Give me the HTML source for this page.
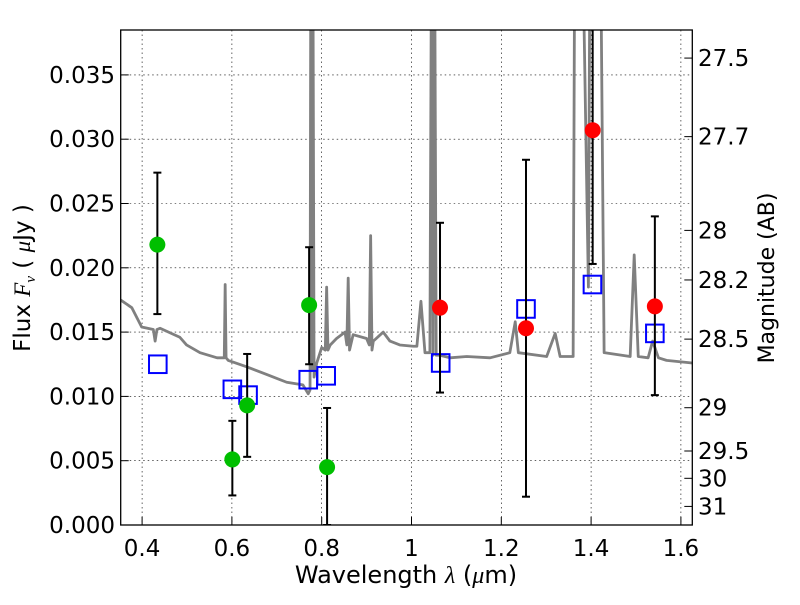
<!DOCTYPE html>
<html><head><meta charset="utf-8"><style>
body{margin:0;background:#fff}
svg text{font-family:"DejaVu Sans","Liberation Sans",sans-serif;fill:#000}
</style></head><body>
<svg id="chart" width="800" height="600" xmlns="http://www.w3.org/2000/svg">
<defs><clipPath id="pc"><rect x="120.7" y="30" width="571.6" height="495"/></clipPath></defs>
<rect x="0" y="0" width="800" height="600" fill="#fff"/>
<g id="grid"></g>
<g id="spec" clip-path="url(#pc)"></g>
<g id="marks" clip-path="url(#pc)"></g>
<rect x="120.7" y="30" width="571.6" height="495" fill="none" stroke="#000" stroke-width="1.3"/>
<g id="axes"></g>
<text x="406" y="583" font-size="24" text-anchor="middle">Wavelength  <tspan font-style="italic" font-family="Liberation Serif">λ</tspan> (<tspan font-style="italic" font-family="Liberation Serif">μ</tspan>m)</text>
<text transform="translate(30,278) rotate(-90)" font-size="23" text-anchor="middle">Flux  <tspan font-style="italic" font-family="Liberation Serif">F</tspan><tspan font-style="italic" font-family="Liberation Serif" font-size="15" dy="5">ν</tspan><tspan dy="-5"> ( </tspan><tspan font-style="italic" font-family="Liberation Serif">μ</tspan>Jy )</text>
<text transform="translate(774,278) rotate(-90)" font-size="22" text-anchor="middle">Magnitude (AB)</text>
</svg>
<script>
const xTicks=[0.4,0.6,0.8,1.0,1.2,1.4,1.6];
const xTickLabels=["0.4","0.6","0.8","1","1.2","1.4","1.6"];
const yTicks=[0,0.005,0.01,0.015,0.02,0.025,0.03,0.035];
const yTickLabels=["0.000","0.005","0.010","0.015","0.020","0.025","0.030","0.035"];
const magTicks=[27.5,27.7,28,28.2,28.5,29,29.5,30,31];
const magTickLabels=["27.5","27.7","28","28.2","28.5","29","29.5","30","31"];
const specW=[0.352,0.377,0.399,0.425,0.429,0.433,0.440,0.484,0.499,0.529,0.567,0.583,0.585,0.587,0.592,0.633,0.678,0.722,0.758,0.770,0.774,0.776,0.778,0.780,0.783,0.789,0.800,0.808,0.811,0.814,0.819,0.833,0.852,0.856,0.859,0.862,0.870,0.900,0.906,0.909,0.912,0.915,0.937,0.952,0.974,1.004,1.012,1.021,1.030,1.041,1.045,1.048,1.051,1.055,1.063,1.086,1.123,1.175,1.219,1.231,1.238,1.301,1.320,1.331,1.360,1.364,1.379,1.394,1.398,1.420,1.429,1.487,1.496,1.505,1.527,1.537,1.550,1.568,1.625];
const specF=[0.0175,0.0169,0.0154,0.0152,0.0143,0.0152,0.0153,0.0146,0.0140,0.0134,0.0130,0.0130,0.0187,0.0130,0.0128,0.0123,0.0117,0.0111,0.0109,0.0102,0.0105,0.05,0.012,0.05,0.0115,0.0126,0.0138,0.0136,0.0185,0.0136,0.0140,0.0145,0.0150,0.0140,0.0192,0.0136,0.0148,0.0145,0.0140,0.0225,0.0136,0.0143,0.0150,0.0143,0.0140,0.0139,0.0139,0.0174,0.0134,0.0134,0.05,0.0132,0.05,0.0132,0.0132,0.0130,0.0131,0.0130,0.0134,0.0158,0.0134,0.0131,0.0149,0.0131,0.0131,0.05,0.05,0.0185,0.05,0.05,0.0134,0.0131,0.0210,0.0131,0.0130,0.0143,0.0130,0.0128,0.0126];
const greenW=[0.434,0.601,0.634,0.772,0.812];
const greenF=[0.0218,0.0051,0.0093,0.0171,0.0045];
const greenLo=[0.0164,0.0023,0.0053,0.0125,0.0];
const greenHi=[0.0274,0.0081,0.0133,0.0216,0.0091];
const redW=[1.0635,1.255,1.4035,1.542];
const redF=[0.0169,0.0153,0.0307,0.0170];
const redLo=[0.0103,0.0022,0.0203,0.0101];
const redHi=[0.0235,0.0284,0.045,0.0240];
const modelW=[0.435,0.601,0.636,0.770,0.810,1.065,1.255,1.403,1.542];
const modelF=[0.0125,0.01055,0.0101,0.0113,0.0116,0.0126,0.0168,0.0187,0.0149];

const NS="http://www.w3.org/2000/svg";
const X=w=>411.5+(w-1)*449;
const Y=f=>525-f*12860;
const M=m=>Y(Math.pow(10,(23.9-m)/2.5));
function mk(parent,tag,attrs){const e=document.createElementNS(NS,tag);for(const k in attrs)e.setAttribute(k,attrs[k]);document.getElementById(parent).appendChild(e);return e;}
xTicks.forEach((t,i)=>{
  const g=mk('grid','line',{x1:X(t),x2:X(t),y1:30,y2:525,stroke:'#000','stroke-width':0.6,'stroke-dasharray':'1.5,3'});
  
  
  const tk=mk('axes','line',{x1:X(t),x2:X(t),y1:525,y2:517,stroke:'#000','stroke-width':1});
  
  
  const tx=mk('axes','text',{x:X(t),y:556,'font-size':23,'text-anchor':'middle'});
  tx.textContent=xTickLabels[i];
  
  
});
yTicks.forEach((t,i)=>{
  const g=mk('grid','line',{x1:120.7,x2:692.3,y1:Y(t),y2:Y(t),stroke:'#000','stroke-width':0.6,'stroke-dasharray':'1.5,3'});
  
  
  const tk=mk('axes','line',{x1:120.7,x2:128.7,y1:Y(t),y2:Y(t),stroke:'#000','stroke-width':1});
  
  
  const tx=mk('axes','text',{x:115,y:Y(t)+8,'font-size':23,'text-anchor':'end'});
  tx.textContent=yTickLabels[i];
  
  
});
magTicks.forEach((t,i)=>{
  const tk=mk('axes','line',{x1:684.3,x2:692.3,y1:M(t),y2:M(t),stroke:'#000','stroke-width':1});
  
  
  const tx=mk('axes','text',{x:698,y:M(t)+8,'font-size':23});
  tx.textContent=magTickLabels[i];
  
  
});
const sp=mk('spec','polyline',{points:specW.map((w,i)=>X(w)+','+Y(specF[i])).join(' '),fill:'none',stroke:'#808080','stroke-width':2.8,'stroke-linejoin':'round'});


function errbar(w,lo,hi){
  const a=mk('marks','line',{x1:X(w),x2:X(w),y1:Y(lo),y2:Y(hi),stroke:'#000','stroke-width':2});
  
  
  [lo,hi].forEach(v=>{const c=mk('marks','line',{x1:X(w)-4,x2:X(w)+4,y1:Y(v),y2:Y(v),stroke:'#000','stroke-width':2});
  
  });
}
modelW.forEach((w,i)=>{
  const r=mk('marks','rect',{x:X(w)-8.8,y:Y(modelF[i])-8.8,width:17.6,height:17.6,fill:'none',stroke:'#0000ff','stroke-width':2});
  
  
});
greenW.forEach((w,i)=>{
  errbar(w,greenLo[i],greenHi[i]);
  const c=mk('marks','circle',{cx:X(w),cy:Y(greenF[i]),r:8,fill:'#00bf00'});
  
  
});
redW.forEach((w,i)=>{
  errbar(w,redLo[i],redHi[i]);
  const c=mk('marks','circle',{cx:X(w),cy:Y(redF[i]),r:8,fill:'#ff0000'});
  
  
});
</script>
</body></html>
